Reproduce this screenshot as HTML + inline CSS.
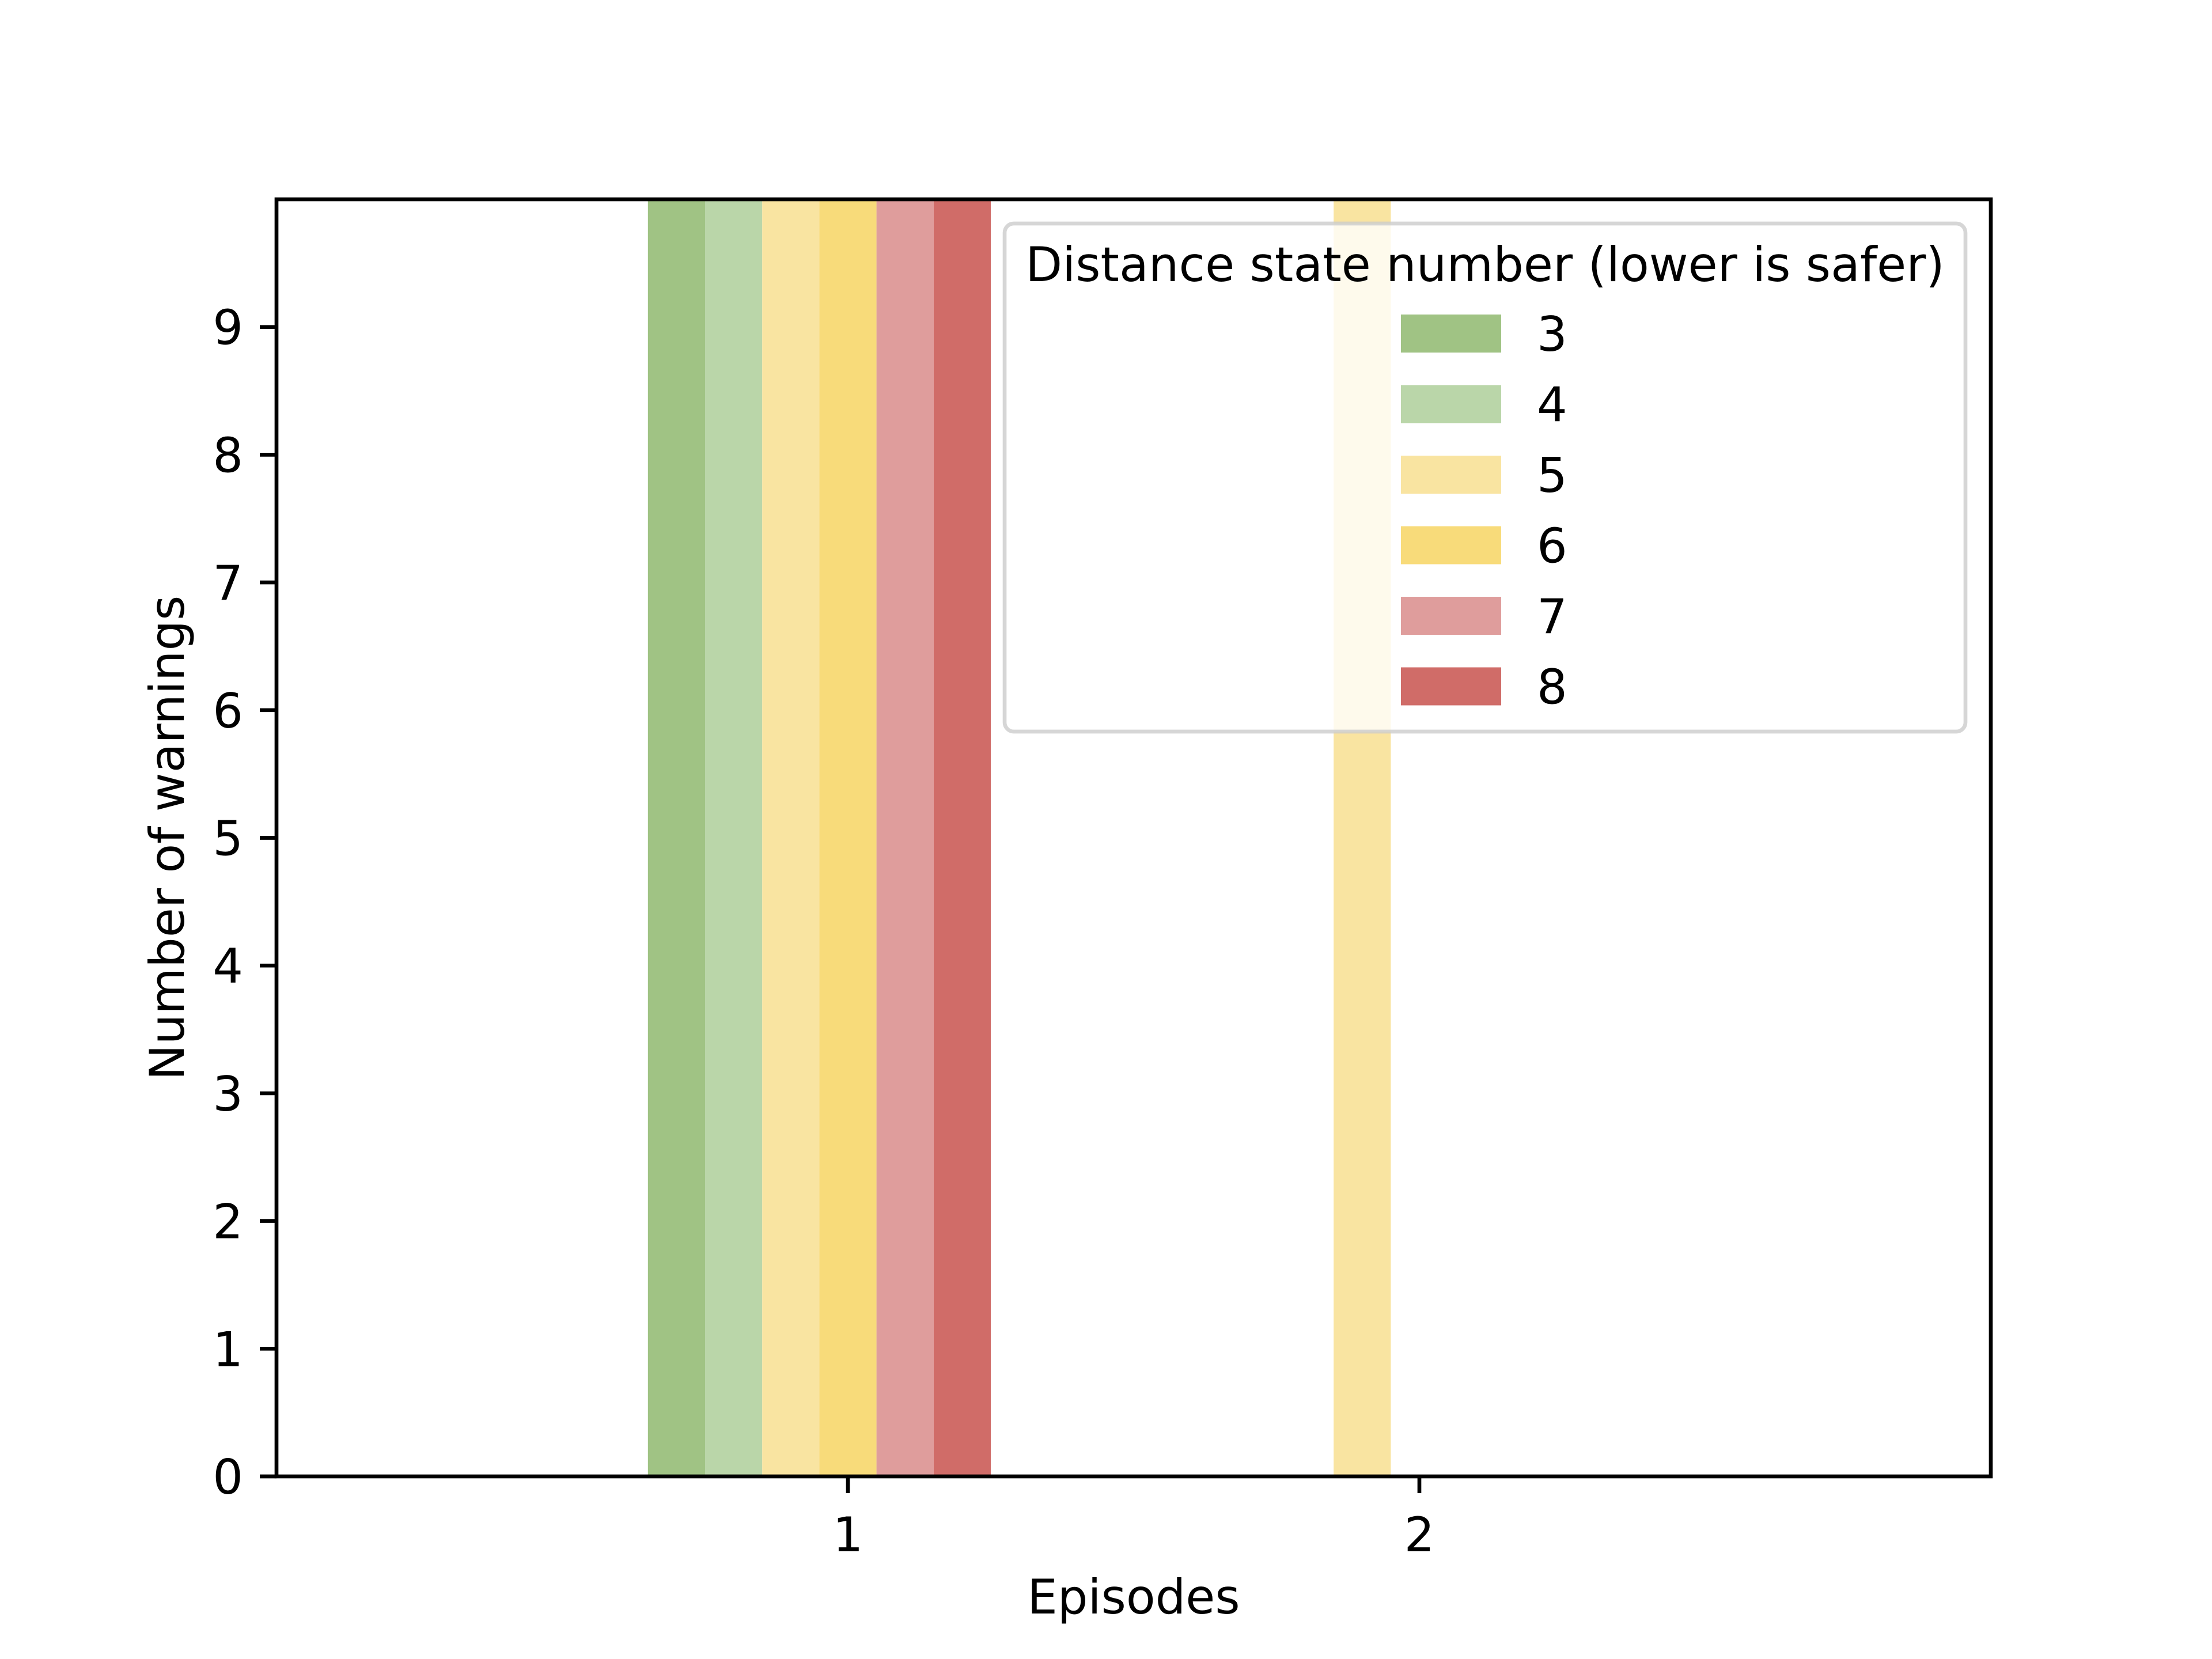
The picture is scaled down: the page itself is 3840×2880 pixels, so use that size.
<!DOCTYPE html>
<html><head><meta charset="utf-8"><style>
html,body{margin:0;padding:0;background:#fff;}
svg{display:block;font-family:"DejaVu Sans","Liberation Sans",sans-serif;}
</style></head><body>
<svg id="chart" width="3840" height="2880" viewBox="0 0 3840 2880" xmlns="http://www.w3.org/2000/svg">
<rect x="0" y="0" width="3840" height="2880" fill="#fff"/>
<g id="bars"></g>
<g id="axes"></g>
<g id="legend"></g>
</svg>
<script>
const episodes = [1, 2];
const states = [3, 4, 5, 6, 7, 8];
const stateColors = ['#a0c384', '#bad6a9', '#f9e4a1', '#f8db7a', '#df9d9c', '#d06c68'];
const warnings_s3 = [12, 0];
const warnings_s4 = [12, 0];
const warnings_s5 = [12, 12];
const warnings_s6 = [12, 0];
const warnings_s7 = [12, 0];
const warnings_s8 = [12, 0];
const yTicks = [0, 1, 2, 3, 4, 5, 6, 7, 8, 9];
const xTicks = [1, 2];

const series = [warnings_s3, warnings_s4, warnings_s5, warnings_s6, warnings_s7, warnings_s8];
const NS = 'http://www.w3.org/2000/svg';
const L = 480, R = 3456, T = 346, B = 2563;
const xMin = 0, xMax = 3, yMin = 0, yMax = 10;
const barW = 0.1;
function xs(v){ return L + (v - xMin) / (xMax - xMin) * (R - L); }
function ys(v){ return B - (v - yMin) / (yMax - yMin) * (B - T); }
function mk(tag, attrs, parent){
  const e = document.createElementNS(NS, tag);
  for (const k in attrs) e.setAttribute(k, attrs[k]);
  parent.appendChild(e);
  return e;
}

const barsG = document.getElementById('bars');
const clip = mk('clipPath', {id: 'plotclip'}, barsG);
mk('rect', {x: L, y: T, width: R - L, height: B - T}, clip);
barsG.setAttribute('clip-path', 'url(#plotclip)');
series.forEach((vals, si) => {
  episodes.forEach((ep, ei) => {
    const v = vals[ei];
    if (!v) return;
    const x0 = ep - 0.35 + si * barW;
    const y0 = ys(Math.min(v, yMax + 1));
    const r = mk('rect', {x: xs(x0), y: y0, width: xs(x0 + barW) - xs(x0), height: ys(0) - y0, fill: stateColors[si]}, barsG);
    
    
  });
});

const ax = document.getElementById('axes');
yTicks.forEach(t => {
  const y = ys(t);
  const ln = mk('line', {x1: L - 29, x2: L, y1: y, y2: y, stroke: '#000', 'stroke-width': 6.67}, ax);
  
  
  const tx = mk('text', {x: L - 58, y: y + 30, 'font-size': 83, 'text-anchor': 'end', fill: '#000'}, ax);
  tx.textContent = t;
  
  
});
xTicks.forEach(t => {
  const x = xs(t);
  const ln = mk('line', {x1: x, x2: x, y1: B, y2: B + 29, stroke: '#000', 'stroke-width': 6.67}, ax);
  
  
  const tx = mk('text', {x: x, y: B + 130, 'font-size': 83, 'text-anchor': 'middle', fill: '#000'}, ax);
  tx.textContent = t;
  
  
});
const frame = mk('rect', {x: L, y: T, width: R - L, height: B - T, fill: 'none', stroke: '#000', 'stroke-width': 6.67}, ax);


const xl = mk('text', {x: (L + R) / 2, y: 2801, 'font-size': 83, 'text-anchor': 'middle', fill: '#000'}, ax);
xl.textContent = 'Episodes';


const yl = mk('text', {x: 0, y: 0, 'font-size': 83, 'text-anchor': 'middle', fill: '#000', transform: 'translate(319,' + ((T + B) / 2) + ') rotate(-90)'}, ax);
yl.textContent = 'Number of warnings';



const lg = document.getElementById('legend');
const box = mk('rect', {x: 1744, y: 388, width: 1668, height: 882, rx: 16, fill: 'rgba(255,255,255,0.8)', stroke: 'rgba(204,204,204,0.8)', 'stroke-width': 6.67}, lg);


const lt = mk('text', {x: 2578, y: 488, 'font-size': 83, 'text-anchor': 'middle', fill: '#000'}, lg);
lt.textContent = 'Distance state number (lower is safer)';


states.forEach((s, i) => {
  const cy = 579 + i * 122.5;
  const sw = mk('rect', {x: 2432, y: cy - 33, width: 174, height: 66, fill: stateColors[i]}, lg);
  
  
  const tx = mk('text', {x: 2668, y: cy + 30, 'font-size': 83, fill: '#000'}, lg);
  tx.textContent = s;
  
  
});
</script>
</body></html>
